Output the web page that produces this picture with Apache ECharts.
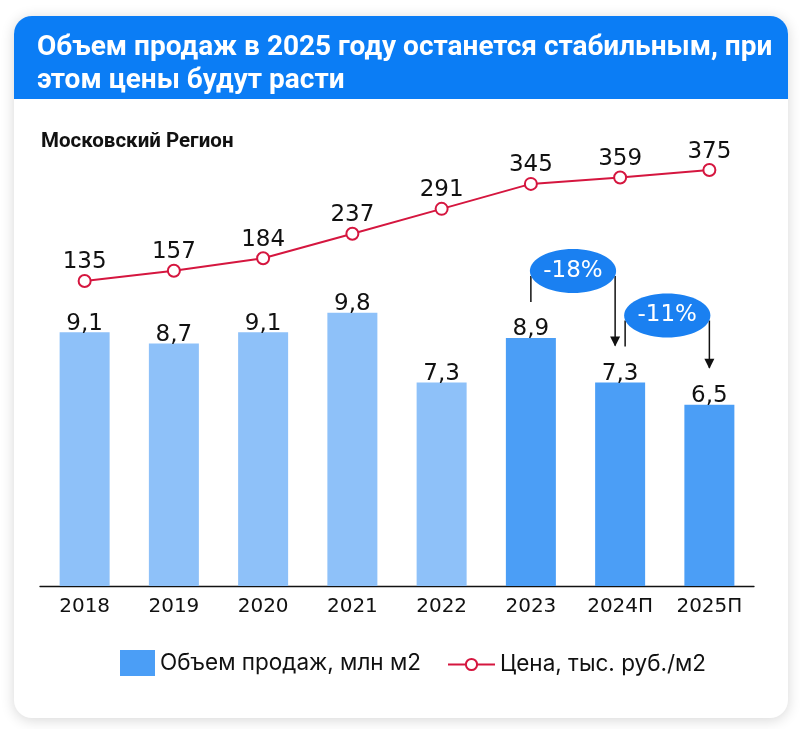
<!DOCTYPE html>
<html><head><meta charset="utf-8">
<script src="https://cdn.jsdelivr.net/npm/echarts@6/dist/echarts.min.js"></script>
<style>html,body{margin:0;padding:0;background:#fff}#c{width:800px;height:729px}</style>
</head><body><div id="c"></div>
<script>
const categories = ['2018','2019','2020','2021','2022','2023','2024П','2025П'];
const volume = [9.1, 8.7, 9.1, 9.8, 7.3, 8.9, 7.3, 6.5];
const price = [135, 157, 184, 237, 291, 345, 359, 375];
const darkFrom = 5;
const changes = [
  {from: 5, to: 6, text: '-18%'},
  {from: 6, to: 7, text: '-11%'}
];
const titleText = 'Объем продаж в 2025 году останется стабильным, при\nэтом цены будут расти';
const subtitleText = 'Московский Регион';
const barName = 'Объем продаж, млн м2';
const lineName = 'Цена, тыс. руб./м2';

const LIGHT = '#8ec1f9', DARK = '#4b9ef6', RED = '#d5163f', HEAD = '#0b7df5';
const FONT = 'Inter, Roboto, sans-serif';
const NUMFONT = '"DejaVu Sans", Inter, sans-serif';

const chart = echarts.init(document.getElementById('c'));
const option = {
  backgroundColor: '#fff',
  animation: false,
  title: [
    {text: titleText, left: 32, top: 26,
     textStyle: {color: '#fff', fontSize: 28, fontWeight: 'bold', lineHeight: 33, fontFamily: 'Roboto, sans-serif'}},
    {text: subtitleText, left: 36, top: 126,
     textStyle: {color: '#111', fontSize: 20.5, fontWeight: 'bold', fontFamily: 'Roboto, sans-serif'}}
  ],
  legend: [
    {data: [{name: barName, icon: 'rect'}], left: 120, top: 650, itemWidth: 35, itemHeight: 26, padding: 0,
     textStyle: {fontSize: 22.5, color: '#111', fontFamily: FONT}},
    {data: [lineName], left: 447, top: 653, itemWidth: 47, itemHeight: 14, padding: 0,
     textStyle: {fontSize: 22.5, color: '#111', fontFamily: FONT}}
  ],
  grid: {left: 40, right: 46, top: 140, bottom: 143, containLabel: false},
  xAxis: {
    type: 'category', data: categories,
    axisLine: {lineStyle: {color: '#111', width: 1.3}},
    axisTick: {show: false},
    axisLabel: {fontSize: 20, color: '#111', margin: 11, fontFamily: NUMFONT}
  },
  yAxis: [
    {type: 'value', min: 0, max: 16, show: false, splitLine: {show: false}},
    {type: 'value', min: -525, max: 440, show: false, splitLine: {show: false}}
  ],
  series: [
    {
      name: barName, type: 'bar', barWidth: 50,
      itemStyle: {color: DARK},
      data: volume.map((v, i) => ({value: v, itemStyle: {color: i < darkFrom ? LIGHT : DARK}})),
      label: {show: true, position: 'top', distance: -3, fontSize: 23, color: '#111', fontFamily: NUMFONT,
        formatter: p => String(p.value).replace('.', ',')}
    },
    {
      name: lineName, type: 'line', yAxisIndex: 1, data: price,
      symbol: 'emptyCircle', symbolSize: 12,
      lineStyle: {color: RED, width: 2},
      itemStyle: {color: RED, borderWidth: 1.5},
      label: {show: true, position: 'top', distance: 0, fontSize: 23, color: '#111', fontFamily: NUMFONT}
    }
  ]
};
chart.setOption(option);

function px(i, v) { return chart.convertToPixel({seriesIndex: 0}, [i, v]); }

const elements = [
  {type: 'rect', z: -10, shape: {x: 14, y: 16, width: 774, height: 702, r: 18},
   style: {fill: '#fff', shadowBlur: 14, shadowColor: 'rgba(0,0,0,0.16)', shadowOffsetY: 2}},
  {type: 'rect', z: -9, shape: {x: 14, y: 16, width: 774, height: 83, r: [18, 18, 0, 0]},
   style: {fill: HEAD}}
];

function arrowHead(x, y) {
  return {type: 'polygon', z: 100, shape: {points: [[x - 5, y - 10], [x + 5, y - 10], [x, y]]},
          style: {fill: '#111'}};
}
function vline(x, y1, y2) {
  return {type: 'line', z: 99, shape: {x1: x, y1: y1, x2: x, y2: y2}, style: {stroke: '#111', lineWidth: 1.5}};
}

changes.forEach((c, k) => {
  const a = px(c.from, volume[c.from]);
  const b = px(c.to, volume[c.to]);
  const x0 = k === 0 ? a[0] : a[0] + 5;
  const x1 = k === 0 ? b[0] - 5 : b[0];
  const cx = (x0 + x1) / 2;
  const rx = (x1 - x0) / 2 + 1;
  const cy = a[1] - 67;
  const ry = 22;
  elements.push(vline(x0, cy + 5, a[1] - 36));
  elements.push(vline(x1, cy + 5, b[1] - 37));
  elements.push(arrowHead(x1, b[1] - 36));
  elements.push({type: 'ellipse', z: 101, shape: {cx: cx, cy: cy, rx: rx, ry: ry}, style: {fill: '#1a80f1'}});
  elements.push({type: 'text', z: 102, x: cx, y: cy,
    style: {text: c.text, fill: '#fff', fontSize: 23, fontFamily: NUMFONT, align: 'center', verticalAlign: 'middle'}});
});

chart.setOption({graphic: {elements: elements}});
</script>
</body></html>
